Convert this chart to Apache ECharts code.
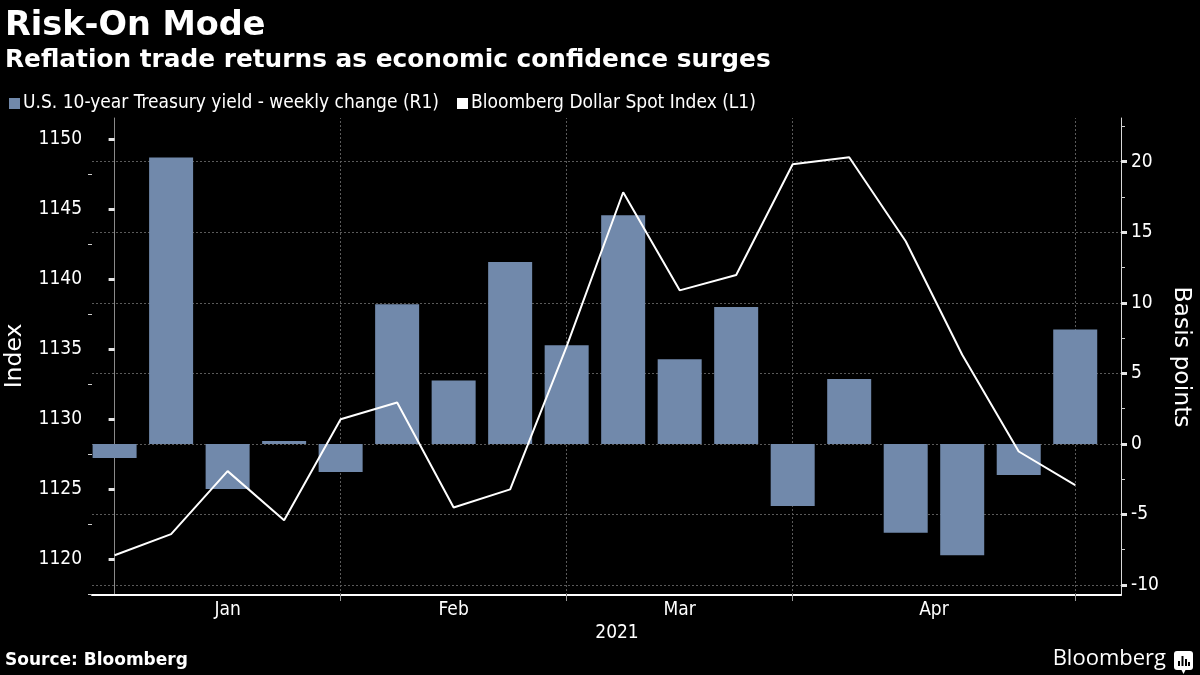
<!DOCTYPE html>
<html>
<head>
<meta charset="utf-8">
<script src="https://cdn.jsdelivr.net/npm/echarts@6/dist/echarts.min.js"></script>
<style>
  html, body { margin: 0; padding: 0; background: #000; }
  #chart { width: 1200px; height: 675px; }
</style>
</head>
<body>
<div id="chart"></div>
<script>
// ---- data ----
const weeks = ['W1','W2','W3','W4','W5','W6','W7','W8','W9','W10','W11','W12','W13','W14','W15','W16','W17','W18'];
const yieldChange = [-1.0, 20.3, -3.2, 0.2, -2.0, 9.9, 4.5, 12.9, 7.0, 16.2, 6.0, 9.7, -4.4, 4.6, -6.3, -7.9, -2.2, 8.1];
const dollarIndex = [1120.3, 1121.8, 1126.3, 1122.8, 1130.0, 1131.2, 1123.7, 1125.0, 1135.2, 1146.2, 1139.2, 1140.3, 1148.2, 1148.7, 1142.7, 1134.6, 1127.7, 1125.3];
const months = ['Jan', 'Feb', 'Mar', 'Apr'];
const monthLabelAt = [2, 6, 10, 14.5];     // axis coordinate (week index) of month label
const monthBoundaryAt = [4, 8, 12, 17];    // axis coordinate of month boundary lines
const leftMajor = [1120, 1125, 1130, 1135, 1140, 1145, 1150];
const leftMinor = [1117.5, 1122.5, 1127.5, 1132.5, 1137.5, 1142.5, 1147.5];
const rightMajor = [-10, -5, 0, 5, 10, 15, 20];
const rightMinor = [-7.5, -2.5, 2.5, 7.5, 12.5, 17.5, 22.5];

const COND = '"DejaVu Sans Condensed", "DejaVu Sans", sans-serif';
const REG = '"DejaVu Sans", sans-serif';
const BAR = '#7189ab';
const GRID = '#5a5a5a';

const chart = echarts.init(document.getElementById('chart'));

const barData = yieldChange.map((v, i) => [i, v]);
const lineData = dollarIndex.map((v, i) => [i, v]);

const LMIN = 1117.46, LMAX = 1151.5;
const RMIN = -10.71, RMAX = 23.1;

function yAx(pos, min, max, major) {
  return {
    type: 'value', position: pos, min: min, max: max,
    axisLine: { show: true, lineStyle: { color: pos === 'left' ? '#8a8a8a' : '#d8d8d8', width: 1 } },
    splitLine: { show: false },
    axisTick: { show: true, customValues: major, length: 6, lineStyle: { color: '#e6e6e6', width: 3 } },
    axisLabel: { show: true, customValues: major, color: '#ffffff', fontFamily: COND, fontSize: 19, margin: 10,
      formatter: function (v) { return String(v); } }
  };
}
function yMinor(pos, min, max, minor) {
  return {
    type: 'value', position: pos, min: min, max: max,
    axisLine: { show: false },
    splitLine: { show: false },
    axisTick: { show: true, customValues: minor, length: 4, lineStyle: { color: '#cfcfcf', width: 1 } },
    axisLabel: { show: false }
  };
}

const option = {
  backgroundColor: '#000000',
  animation: false,
  grid: { left: 92, right: 79, top: 118, bottom: 80, containLabel: false },
  legend: {
    left: 4, top: 89,
    itemWidth: 11, itemHeight: 11, itemGap: 18,
    icon: 'rect',
    textStyle: { color: '#ffffff', fontFamily: COND, fontSize: 19, padding: [0, 0, 0, -2] },
    data: ['U.S. 10-year Treasury yield - weekly change (R1)', 'Bloomberg Dollar Spot Index (L1)']
  },
  xAxis: {
    type: 'value', min: -0.4, max: 17.81,
    axisLine: { show: true, onZero: false, lineStyle: { color: '#ffffff', width: 2 } },
    splitLine: { show: false },
    axisTick: { show: true, customValues: monthBoundaryAt, length: 6, lineStyle: { color: '#9a9a9a', width: 1 } },
    axisLabel: {
      show: true, customValues: monthLabelAt, color: '#ffffff', fontFamily: COND, fontSize: 19, margin: 6,
      formatter: function (v) { const k = monthLabelAt.indexOf(v); return k >= 0 ? months[k] : ''; }
    }
  },
  yAxis: [
    yAx('left', LMIN, LMAX, leftMajor),
    yMinor('left', LMIN, LMAX, leftMinor),
    yAx('right', RMIN, RMAX, rightMajor),
    yMinor('right', RMIN, RMAX, rightMinor)
  ],
  graphic: [
    { type: 'text', left: 5, top: 9, style: { text: 'Risk-On Mode', fill: '#fff', font: 'bold 33.5px ' + REG } },
    { type: 'text', left: 5, top: 48, style: { text: 'Reflation trade returns as economic confidence surges', fill: '#fff', font: 'bold 24.8px ' + REG } },
    { type: 'text', x: 617, y: 633, style: { text: '2021', fill: '#fff', font: '19px ' + COND, align: 'center', verticalAlign: 'middle' } },
    { type: 'text', x: 15, y: 356, rotation: Math.PI / 2, style: { text: 'Index', fill: '#fff', font: '23.5px ' + REG, align: 'center', verticalAlign: 'middle' } },
    { type: 'text', x: 1181, y: 357, rotation: -Math.PI / 2, style: { text: 'Basis points', fill: '#fff', font: '23.5px ' + REG, align: 'center', verticalAlign: 'middle' } },
    { type: 'text', left: 5, top: 652, style: { text: 'Source: Bloomberg', fill: '#fff', font: 'bold 17px ' + REG } },
    { type: 'text', right: 34, top: 648, style: { text: 'Bloomberg', fill: '#fff', font: '500 22px "Open Sans", "DejaVu Sans", sans-serif' } },
    { type: 'group', right: 7, top: 651, children: [
      { type: 'rect', shape: { x: 0, y: 0, width: 19, height: 19, r: 3 }, style: { fill: '#fff' } },
      { type: 'polygon', shape: { points: [[7, 18], [12, 18], [9.5, 23]] }, style: { fill: '#fff' } },
      { type: 'rect', shape: { x: 4, y: 10, width: 2, height: 5 }, style: { fill: '#000' } },
      { type: 'rect', shape: { x: 7.5, y: 5, width: 2, height: 10 }, style: { fill: '#000' } },
      { type: 'rect', shape: { x: 11, y: 8, width: 2, height: 7 }, style: { fill: '#000' } },
      { type: 'rect', shape: { x: 14, y: 11, width: 2, height: 4 }, style: { fill: '#000' } }
    ] }
  ],
  series: [
    {
      name: 'U.S. 10-year Treasury yield - weekly change (R1)',
      type: 'bar', xAxisIndex: 0, yAxisIndex: 2,
      barWidth: 44, z: 3,
      itemStyle: { color: BAR },
      data: barData,
      markLine: {
        silent: true, symbol: 'none', z: 1,
        label: { show: false },
        lineStyle: { color: GRID, width: 1, type: [2, 2] },
        data: rightMajor.map(v => ({ yAxis: v })).concat(monthBoundaryAt.map(v => ({ xAxis: v })))
      }
    },
    {
      name: 'Bloomberg Dollar Spot Index (L1)',
      type: 'line', xAxisIndex: 0, yAxisIndex: 0,
      z: 4, symbol: 'none', showSymbol: false,
      itemStyle: { color: '#ffffff' },
      lineStyle: { color: '#ffffff', width: 2 },
      data: lineData
    }
  ]
};
chart.setOption(option);
</script>
</body>
</html>
